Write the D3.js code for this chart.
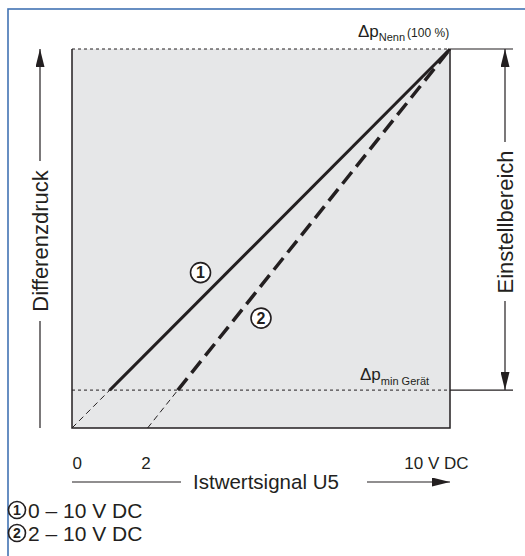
<!DOCTYPE html>
<html>
<head>
<meta charset="utf-8">
<script src="https://cdn.jsdelivr.net/npm/d3@7"></script>
<style>
  body { margin: 0; background: #fff; }
  text { font-family: "Liberation Sans", Arial, sans-serif; fill: #231f20; }
</style>
</head>
<body>
<div id="chart"></div>
<script>
// Tick values and labels of the signal axis
const xTicks = [0, 2, 10];
const xTickLabels = ["0", "2", "10 V DC"];

// Pressure levels (% of nominal)
const pMin = 10;
const pNenn = 100;

// Curve 1: 0 - 10 V DC  (extension below pMin, active part above)
const curve1Ext = [[0, 0], [1, 10]];
const curve1 = [[1, 10], [10, 100]];
// Curve 2: 2 - 10 V DC
const curve2Ext = [[2, 0], [2.8, 10]];
const curve2 = [[2.8, 10], [10, 100]];

const legendLabels = ["0 – 10 V DC", "2 – 10 V DC"];
const markerLabels = ["1", "2"];
// position of circled markers on the chart (signal, pressure)
const markerPos = [[3.4, 41], [5.0, 29]];

const W = 525, H = 556;
const ink = "#231f20";

const svg = d3.select("#chart")
    .append("svg")
    .attr("width", W)
    .attr("height", H);

// Blue frame (top and left visible)
svg.append("rect")
    .attr("x", 8).attr("y", 9)
    .attr("width", W + 20).attr("height", H + 20)
    .attr("fill", "none")
    .attr("stroke", "#4273b3")
    .attr("stroke-width", 1.6);

const x = d3.scaleLinear().domain([0, 10]).range([72, 450]);
const y = d3.scaleLinear().domain([0, 100]).range([428, 49]);

// Plot area
svg.append("rect")
    .attr("x", x(0)).attr("y", y(pNenn))
    .attr("width", x(10) - x(0)).attr("height", y(0) - y(pNenn))
    .attr("fill", "#e6e7e8");

// Borders: left, bottom, right solid
svg.append("path")
    .attr("d", `M${x(0)},${y(pNenn)} V${y(0)} H${x(10)} V${y(pNenn)}`)
    .attr("fill", "none")
    .attr("stroke", ink)
    .attr("stroke-width", 1.5);

// Dotted level lines
[pNenn, pMin].forEach(p => {
    svg.append("line")
        .attr("x1", x(0)).attr("x2", x(10))
        .attr("y1", y(p)).attr("y2", y(p))
        .attr("stroke", ink)
        .attr("stroke-width", 1)
        .attr("stroke-dasharray", "3,3");
    svg.append("line")
        .attr("x1", x(10)).attr("x2", 513)
        .attr("y1", y(p)).attr("y2", y(p))
        .attr("stroke", ink)
        .attr("stroke-width", 1.1);
});

const line = d3.line().x(d => x(d[0])).y(d => y(d[1]));

// Thin dashed extensions
[curve1Ext, curve2Ext].forEach(c => {
    svg.append("path")
        .attr("d", line(c))
        .attr("fill", "none")
        .attr("stroke", ink)
        .attr("stroke-width", 1)
        .attr("stroke-dasharray", "6,4");
});

svg.append("path")
    .attr("d", line(curve1))
    .attr("fill", "none")
    .attr("stroke", ink)
    .attr("stroke-width", 3);

svg.append("path")
    .attr("d", line(curve2))
    .attr("fill", "none")
    .attr("stroke", ink)
    .attr("stroke-width", 3.5)
    .attr("stroke-dasharray", "15,7");

// Circled markers
function circled(cx, cy, r, label, fs, fill) {
    svg.append("circle")
        .attr("cx", cx).attr("cy", cy).attr("r", r)
        .attr("fill", fill)
        .attr("stroke", ink)
        .attr("stroke-width", 1.6);
    svg.append("text")
        .attr("x", cx).attr("y", cy)
        .attr("dy", "0.36em")
        .attr("text-anchor", "middle")
        .attr("font-weight", "bold")
        .attr("font-size", fs)
        .text(label);
}
markerPos.forEach((m, i) => circled(x(m[0]), y(m[1]), 10, markerLabels[i], 16, "#fff"));

// X tick labels
const xAxis = svg.append("g")
    .attr("transform", `translate(0, ${y(0)})`)
    .call(d3.axisBottom(x).tickValues(xTicks).tickSize(0).tickPadding(29)
        .tickFormat((d, i) => xTickLabels[i]));
xAxis.select(".domain").remove();
xAxis.selectAll("text")
    .attr("font-size", 17)
    .attr("font-family", "Liberation Sans, Arial, sans-serif")
    .attr("fill", ink)
    .attr("text-anchor", (d, i) => i === 0 ? "start" : (i === 2 ? "end" : "middle"))
    .attr("dx", (d, i) => i === 2 ? 18 : (i === 1 ? -2 : 0));

const defs = svg.append("defs");
defs.append("marker")
    .attr("id", "arrow")
    .attr("viewBox", "0 0 18 9")
    .attr("refX", 18).attr("refY", 4.5)
    .attr("markerWidth", 18).attr("markerHeight", 9)
    .attr("markerUnits", "userSpaceOnUse")
    .attr("orient", "auto-start-reverse")
    .append("path")
    .attr("d", "M0,0 L18,4.5 L0,9 Z")
    .attr("fill", ink);

// X axis title with arrow
const xTitleY = 482;
svg.append("line")
    .attr("x1", x(0)).attr("x2", 181)
    .attr("y1", xTitleY).attr("y2", xTitleY)
    .attr("stroke", ink).attr("stroke-width", 1.2);
svg.append("text")
    .attr("x", 193).attr("y", xTitleY)
    .attr("dy", "0.36em")
    .attr("font-size", 20.5)
    .text("Istwertsignal U5");
svg.append("line")
    .attr("x1", 367).attr("x2", x(10))
    .attr("y1", xTitleY).attr("y2", xTitleY)
    .attr("stroke", ink).attr("stroke-width", 1.2)
    .attr("marker-end", "url(#arrow)");

// Y axis title "Differenzdruck"
const yTitleX = 40;
svg.append("line")
    .attr("x1", yTitleX).attr("x2", yTitleX)
    .attr("y1", 161).attr("y2", y(pNenn))
    .attr("stroke", ink).attr("stroke-width", 1.2)
    .attr("marker-end", "url(#arrow)");
svg.append("line")
    .attr("x1", yTitleX).attr("x2", yTitleX)
    .attr("y1", 321).attr("y2", y(0))
    .attr("stroke", ink).attr("stroke-width", 1.2);
svg.append("text")
    .attr("transform", `translate(${yTitleX}, 241) rotate(-90)`)
    .attr("text-anchor", "middle")
    .attr("dy", "0.36em")
    .attr("font-size", 22)
    .text("Differenzdruck");

// Right range "Einstellbereich"
const rX = 505;
svg.append("line")
    .attr("x1", rX).attr("x2", rX)
    .attr("y1", 142).attr("y2", y(pNenn))
    .attr("stroke", ink).attr("stroke-width", 1.2)
    .attr("marker-end", "url(#arrow)");
svg.append("line")
    .attr("x1", rX).attr("x2", rX)
    .attr("y1", 301).attr("y2", y(pMin))
    .attr("stroke", ink).attr("stroke-width", 1.2)
    .attr("marker-end", "url(#arrow)");
svg.append("text")
    .attr("transform", `translate(${rX}, 222) rotate(-90)`)
    .attr("text-anchor", "middle")
    .attr("dy", "0.36em")
    .attr("font-size", 22)
    .text("Einstellbereich");

// Level labels
const nenn = svg.append("text").attr("x", 358).attr("y", 37);
nenn.append("tspan").attr("font-size", 17).text("Δp");
nenn.append("tspan").attr("font-size", 11).attr("dy", 4).text("Nenn");
nenn.append("tspan").attr("font-size", 12).attr("dy", -4).attr("dx", 2).text("(100 %)");

const pmin = svg.append("text").attr("x", 360).attr("y", 380);
pmin.append("tspan").attr("font-size", 17).text("Δp");
pmin.append("tspan").attr("font-size", 11).attr("dy", 5).text("min Gerät");

// Legend
legendLabels.forEach((l, i) => {
    const cy = 510 + i * 23;
    circled(17, cy, 8.5, markerLabels[i], 14, "none");
    svg.append("text")
        .attr("x", 28).attr("y", cy)
        .attr("dy", "0.36em")
        .attr("font-size", 21)
        .text(l);
});
</script>
</body>
</html>
